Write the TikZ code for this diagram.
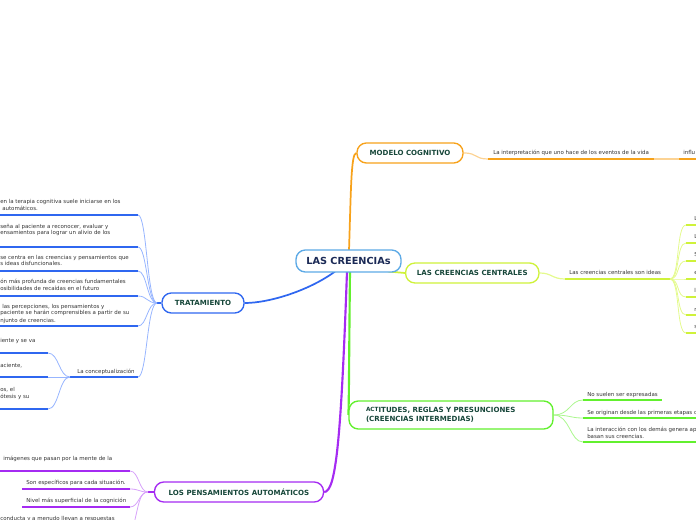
\documentclass[tikz,border=0pt]{standalone}
\usepackage{fontspec}
\setmainfont{DejaVu Sans}
\usetikzlibrary{backgrounds}
\definecolor{cblue}{HTML}{2F67F0}
\definecolor{cbluel}{HTML}{97B5FF}
\definecolor{corange}{HTML}{F7A21B}
\definecolor{corangel}{HTML}{FCD394}
\definecolor{cyg}{HTML}{CFF23A}
\definecolor{cygl}{HTML}{E4FA8E}
\definecolor{cgreen}{HTML}{62F02E}
\definecolor{cgreenl}{HTML}{ABF78E}
\definecolor{cpurple}{HTML}{A52BF2}
\definecolor{cpurplel}{HTML}{D7A2FA}
\definecolor{ccentral}{HTML}{5DAAE6}
\definecolor{nodetxt}{HTML}{17473A}
\definecolor{centraltxt}{HTML}{1B2A56}
\definecolor{txtgray}{HTML}{333333}
\tikzset{
  topic/.style={draw, line width=1pt, rounded corners=7pt, fill=white,
    font=\bfseries\fontsize{5.3pt}{6.6pt}\selectfont, text=nodetxt, inner sep=0pt},
  small/.style={font=\fontsize{4.1pt}{5pt}\selectfont, text=txtgray, inner sep=0pt, anchor=base west},
  uline/.style={line width=1.1pt},
  fan/.style={line width=0.6pt},
  mainline/.style={line width=1.3pt}
}
\begin{document}
\begin{tikzpicture}[x=0.75pt,y=-0.75pt]
\useasboundingbox (0,0) rectangle (696,520);
\clip (0,0) rectangle (696,520);

% ---------- topic nodes ----------
\node[topic, draw=ccentral, text=centraltxt, font=\bfseries\fontsize{7.3pt}{8pt}\selectfont,
      minimum width=78.75pt, minimum height=16.5pt] (central) at (348.5,261) {LAS CREENCIAs};
\node[topic, draw=corange, minimum width=79.5pt, minimum height=15pt] (modelo) at (410,153) {MODELO COGNITIVO};
\node[topic, draw=cyg, minimum width=100pt, minimum height=15pt] (centrales) at (472.3,273) {LAS CREENCIAS CENTRALES};
\node[topic, draw=cgreen, minimum height=21pt, inner xsep=12.75pt, text width=127.5pt, align=left] (actitudes) at (451,415)
  {\raisebox{0.7pt}{\fontsize{4.3pt}{6.6pt}\selectfont ACT}ITUDES, REGLAS Y PRESUNCIONES\\(CREENCIAS INTERMEDIAS)};
\node[topic, draw=cblue, minimum width=61.5pt, minimum height=15pt] (trat) at (203,303) {TRATAMIENTO};
\node[topic, draw=cpurple, minimum width=126.75pt, minimum height=15pt] (pensam) at (239,492) {LOS PENSAMIENTOS AUTOMÁTICOS};

% ---------- named points ----------
\coordinate (cN) at (349,250.5);
\coordinate (cYG) at (388,271.5);
\coordinate (cG) at (350,271.5);
\coordinate (cP) at (347,271.5);
\coordinate (cB) at (335,271.5);
% modelo
\coordinate (m1a) at (488,159); \coordinate (m1b) at (654,159);
\coordinate (m2a) at (679,159); \coordinate (m2b) at (700,159);
% centrales
\coordinate (c1a) at (565,279); \coordinate (cj) at (670,279);
\foreach \i/\y in {1/225,2/243,3/261,4/279,5/297,6/315,7/333}{
  \coordinate (cb\i) at (686,\y); \coordinate (ce\i) at (700,\y);}
% actitudes
\coordinate (a1) at (583,400); \coordinate (a1e) at (662,400);
\coordinate (a2) at (583,418); \coordinate (a2e) at (700,418);
\coordinate (a3) at (583,442); \coordinate (a3e) at (700,442);
% tratamiento
\coordinate (tj) at (157,303);
\foreach \i/\y in {1/215,2/247,3/271,4/296,5/326}{
  \coordinate (tb\i) at (138,\y); \coordinate (te\i) at (-5,\y);}
\coordinate (tb6) at (138,377); \coordinate (te6) at (70,377);
\foreach \i/\y in {1/353,2/377,3/409}{
  \coordinate (kb\i) at (48,\y); \coordinate (ke\i) at (-5,\y);}
% pensamientos
\coordinate (pj) at (148,492);
\coordinate (pb1) at (130,471); \coordinate (pe1) at (-5,471);
\coordinate (pb2) at (130,489); \coordinate (pe2) at (22,489);
\coordinate (pb3) at (130,507); \coordinate (pe3) at (22,507);
\coordinate (pb4) at (132,532);

% ---------- connectors ----------
\begin{pgfonlayer}{background}
\draw[mainline, corange] (cN) .. controls (351,190) and (351,153) .. (modelo.west);
\draw[mainline, cyg] (cYG) -- (centrales.west);
\draw[mainline, cgreen, line width=1.6pt] (cG) .. controls (349,360) and (349,405) .. (actitudes.west);
\draw[mainline, cpurple, line width=1.6pt] (cP) .. controls (341,440) and (336,492) .. (pensam.east);
\draw[mainline, cblue] (cB) .. controls (310,290) and (270,303) .. (trat.east);

% modelo
\draw[fan, corangel, line width=0.9pt] (modelo.east) .. controls (478,153) and (474,159) .. (m1a);
\draw[uline, corange] (m1a) -- (m1b);
\draw[fan, corangel, line width=0.9pt] (m1b) -- (m2a);
\draw[uline, corange] (m2a) -- (m2b);

% centrales
\draw[fan, cygl, line width=0.9pt] (centrales.east) .. controls (552,273) and (552,279) .. (c1a);
\draw[uline, cyg] (c1a) -- (cj);
\foreach \i/\y in {1/225,2/243,3/261,4/279,5/297,6/315,7/333}{
  \draw[fan, cygl] (cj) .. controls (680,279) and (676,\y) .. (cb\i);
  \draw[uline, cyg] (cb\i) -- (ce\i);}

% actitudes
\foreach \p/\y in {a1/400,a2/418,a3/442}{
  \draw[fan, cgreenl] (actitudes.east) .. controls (570,415) and (570,\y) .. (\p);}
\draw[uline, cgreen] (a1) -- (a1e);
\draw[uline, cgreen] (a2) -- (a2e);
\draw[uline, cgreen] (a3) -- (a3e);

% tratamiento
\draw[uline, cblue] (trat.west) -- (tj);
\foreach \i/\y in {1/215,2/247,3/271,4/296,5/326,6/377}{
  \draw[fan, cbluel] (tj) .. controls (147,303) and (147,\y) .. (tb\i);
  \draw[uline, cblue] (tb\i) -- (te\i);}
\foreach \i/\y in {1/353,2/377,3/409}{
  \draw[fan, cbluel] (te6) .. controls (59,377) and (59,\y) .. (kb\i);
  \draw[uline, cblue] (kb\i) -- (ke\i);}

% pensamientos
\draw[uline, cpurple] (pensam.west) -- (pj);
\foreach \i/\y in {1/471,2/489,3/507}{
  \draw[fan, cpurplel] (pj) .. controls (139,492) and (139,\y) .. (pb\i);}
\draw[fan, cpurplel] (pj) .. controls (139,492) and (139,505) .. (pb4);
\draw[uline, cpurple] (pb1) -- (pe1);
\draw[uline, cpurple] (pb2) -- (pe2);
\draw[uline, cpurple] (pb3) -- (pe3);
\end{pgfonlayer}

% ---------- texts ----------
\node[small] (tm1) at (493,155) {La interpretación que uno hace de los eventos de la vida};
\node[small] (tm2) at (683,155) {influ};
\node[small] (tc0) at (569,275) {Las creencias centrales son ideas};
\node[small] (tc1) at (694,221) {L};
\node[small] (tc2) at (694,239) {L};
\node[small] (tc3) at (694,257) {S};
\node[small] (tc4) at (694,275) {e};
\node[small] (tc5) at (694,293) {l};
\node[small] (tc6) at (694,311) {n};
\node[small] (tc7) at (694,329) {s};
\node[small] (ta1) at (587,396) {No suelen ser expresadas};
\node[small] (ta2) at (587,414) {Se originan desde las primeras etapas d};
\node[small] (ta3) at (587,431) {La interacción con los demás genera ap};
\node[small] (ta4) at (587,438) {basan sus creencias.};

\node[small] (tt1) at (0,204) {en la terapia cognitiva suele iniciarse en los};
\node[small] (tt2) at (2,211) {automáticos.};
\node[small] (tt3) at (0,229) {seña al paciente a reconocer, evaluar y};
\node[small] (tt4) at (0,235) {ensamientos para lograr un alivio de los};
\node[small] (tt5) at (0,260) {se centra en las creencias y pensamientos que};
\node[small] (tt6) at (0,266) {s ideas disfuncionales.};
\node[small] (tt7) at (0,284) {ón más profunda de creencias fundamentales};
\node[small] (tt8) at (0,291) {osibilidades de recaídas en el futuro};
\node[small] (tt9) at (2,309) {las percepciones, los pensamientos y};
\node[small] (tt10) at (0,315) {paciente se harán comprensibles a partir de su};
\node[small] (tt11) at (0,322) {njunto de creencias.};
\node[small] (tk0) at (77,373) {La conceptualización};
\node[small] (tk1) at (0,342) {iente y se va};
\node[small] (tk2) at (0,367) {aciente,};
\node[small] (tk3) at (0,391) {os, el};
\node[small] (tk4) at (0,398) {ótesis y su};

\node[small] (tp1) at (3,460) {imágenes que pasan por la mente de la};
\node[small] (tp2) at (26,484) {Son específicos para cada situación.};
\node[small] (tp3) at (26,502) {Nivel más superficial de la cognición};
\node[small] (tp4) at (0,520) {conducta y a menudo llevan a respuestas};
\end{tikzpicture}
\end{document}
